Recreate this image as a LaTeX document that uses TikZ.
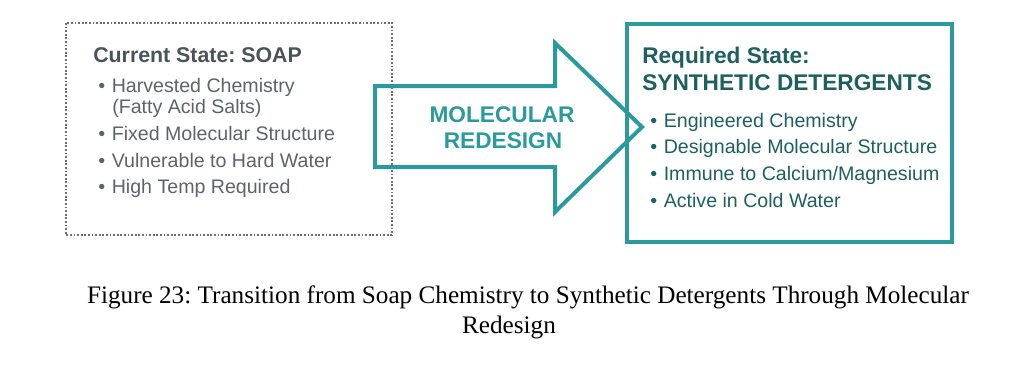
\documentclass[tikz,border=0pt]{standalone}
\usepackage{fontspec}
\setmainfont{Liberation Serif}
\newfontfamily\diagfont{Liberation Sans}
\definecolor{teal1}{HTML}{2B9A9C}
\definecolor{tealtext}{HTML}{1E5F60}
\definecolor{graytext}{HTML}{5C6468}
\definecolor{graytitle}{HTML}{4A5458}
\definecolor{dotgray}{HTML}{6E6E6E}
\frenchspacing
\begin{document}
\begin{tikzpicture}[x=0.75pt,y=-0.75pt,
  lefttitle/.style={anchor=base west,inner sep=0pt,font=\diagfont\bfseries\fontsize{16pt}{19pt}\selectfont,text=graytitle},
  leftitem/.style={anchor=base west,inner sep=0pt,font=\diagfont\fontsize{14.7pt}{17pt}\selectfont,text=graytext},
  righttitle/.style={anchor=base west,inner sep=0pt,font=\diagfont\bfseries\fontsize{17pt}{20pt}\selectfont,text=tealtext},
  rightitem/.style={anchor=base west,inner sep=0pt,font=\diagfont\fontsize{14.7pt}{17pt}\selectfont,text=tealtext},
  arrowtext/.style={anchor=base,inner sep=0pt,font=\diagfont\bfseries\fontsize{17pt}{20pt}\selectfont,text=teal1},
  captext/.style={anchor=base,inner sep=0pt,font=\fontsize{18.9pt}{22pt}\selectfont,text=black},
  bigarrow/.style={draw=teal1,line width=3pt,line join=miter},
  dotbox/.style={draw=dotgray,line width=1.8pt,dash pattern=on 1.4pt off 1.3pt},
  solidbox/.style={draw=teal1,line width=2.4pt}]
\useasboundingbox (0,0) rectangle (1022,365);
% left box
\draw[dotbox] (66,23) rectangle (392,235);
\node[lefttitle] (lt) at (93,62) {Current State: SOAP};
\node[leftitem] (l1) at (98,92) {•\hspace{5pt}Harvested Chemistry};
\node[leftitem] (l1b) at (112,113) {(Fatty Acid Salts)};
\node[leftitem] (l2) at (98,140) {•\hspace{5pt}Fixed Molecular Structure};
\node[leftitem] (l3) at (98,167) {•\hspace{5pt}Vulnerable to Hard Water};
\node[leftitem] (l4) at (98,193) {•\hspace{5pt}High Temp Required};
% right box
\draw[solidbox] (627,24) rectangle (952,242);
\node[righttitle] (rt1) at (642,63) {Required State:};
\node[righttitle] (rt2) at (642,90) {SYNTHETIC DETERGENTS};
\node[rightitem] (r1) at (650,127) {•\hspace{5pt}Engineered Chemistry};
\node[rightitem] (r2) at (650,153) {•\hspace{5pt}Designable Molecular Structure};
\node[rightitem] (r3) at (650,180) {•\hspace{5pt}Immune to Calcium/Magnesium};
\node[rightitem] (r4) at (650,207) {•\hspace{5pt}Active in Cold Water};
% arrow
\draw[bigarrow] (375,86) -- (555,86) -- (555,43) -- (642,127) -- (555,212) -- (555,167) -- (375,167) -- cycle;
\node[arrowtext] (a1) at (502,122) {MOLECULAR};
\node[arrowtext] (a2) at (503,148) {REDESIGN};
% caption
\node[captext] (c1) at (528,303) {Figure 23: Transition from Soap Chemistry to Synthetic Detergents Through Molecular};
\node[captext] (c2) at (509,333) {Redesign};
\end{tikzpicture}
\end{document}
